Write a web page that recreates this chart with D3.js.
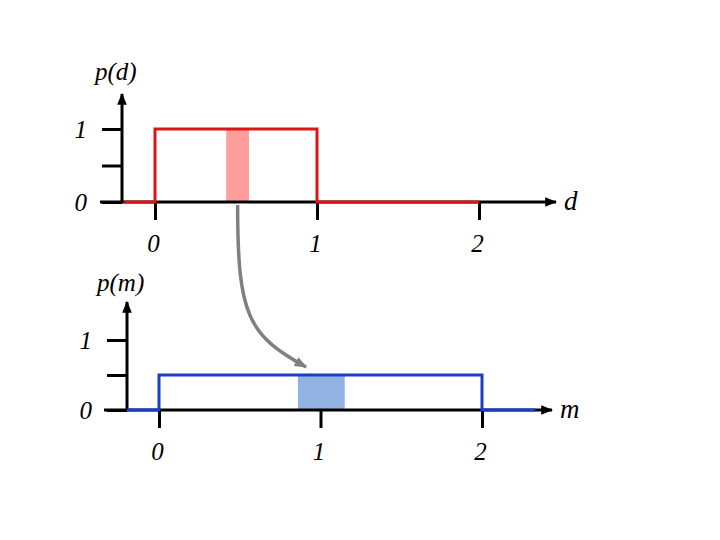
<!DOCTYPE html>
<html>
<head>
<meta charset="utf-8">
<script src="https://cdn.jsdelivr.net/npm/d3@7"></script>
<style>
  body { margin: 0; background: #fff; }
  text { font-family: "Liberation Serif", "DejaVu Serif", serif; font-style: italic; }
</style>
</head>
<body>
<div class="chart"></div>
<script>
// data
const xTicks = [0, 1, 2];
const yTicks = [0, 0.5, 1];
const yTickLabels = ["0", "", "1"];
// p(d): uniform on [0,1]
const pdX = [-0.19, 0, 0, 1, 1, 2];
const pdY = [0, 0, 1, 1, 0, 0];
// p(m): uniform on [0,2], m = 2d
const pmX = [-0.2, 0, 0, 2, 2, 2.33];
const pmY = [0, 0, 0.5, 0.5, 0, 0];
// shaded slices
const dSlice = [0.44, 0.58];
const mSlice = [0.86, 1.15];

const svg = d3
  .select(".chart")
  .append("svg")
  .attr("width", 720)
  .attr("height", 540);

//arrow heads
svg.append("defs")
  .selectAll("marker")
  .data([["black", "#000", 4], ["gray", "#808080", 3.6]])
  .enter()
  .append("marker")
  .attr("id", (d) => "arrow-" + d[0])
  .attr("viewBox", "0 0 10 10")
  .attr("refX", 9)
  .attr("refY", 5)
  .attr("markerWidth", (d) => d[2])
  .attr("markerHeight", (d) => d[2])
  .attr("orient", "auto")
  .append("path")
  .attr("d", "M0,1 L10,5 L0,9 Z")
  .attr("fill", (d) => d[1]);

function panel(opt) {
  const x = d3.scaleLinear().domain([0, 2]).range(opt.xRange);
  const y = d3.scaleLinear().domain([0, 1]).range(opt.yRange);
  const g = svg.append("g");

  //shaded slice
  g.append("rect")
    .attr("x", x(opt.slice[0]))
    .attr("y", y(opt.sliceH))
    .attr("width", x(opt.slice[1]) - x(opt.slice[0]))
    .attr("height", y(0) - y(opt.sliceH))
    .attr("fill", opt.shade);

  //x axis line with arrow
  g.append("line")
    .attr("x1", opt.axisStart)
    .attr("x2", opt.axisEnd)
    .attr("y1", y(0))
    .attr("y2", y(0))
    .attr("stroke", "#000")
    .attr("stroke-width", 3)
    .attr("marker-end", "url(#arrow-black)");

  //y axis line with arrow
  g.append("line")
    .attr("x1", opt.yAxisX)
    .attr("x2", opt.yAxisX)
    .attr("y1", y(0))
    .attr("y2", opt.yAxisTop)
    .attr("stroke", "#000")
    .attr("stroke-width", 3)
    .attr("marker-end", "url(#arrow-black)");

  //x ticks
  const xAxis = d3.axisBottom(x).tickValues(xTicks).tickSize(18).tickPadding(14).tickFormat(d3.format("d"));
  const gx = g.append("g")
    .attr("transform", `translate(0, ${y(0)})`)
    .call(xAxis);
  gx.select(".domain").remove();
  gx.selectAll(".tick line").attr("stroke-width", 3);
  gx.selectAll(".tick text")
    .attr("font-size", 25)
    .attr("font-family", "Liberation Serif, serif")
    .attr("dx", -2);

  //y ticks
  const yAxis = d3.axisLeft(y).tickValues(yTicks).tickSize(20).tickPadding(15)
    .tickFormat((d, i) => yTickLabels[i]);
  const gy = g.append("g")
    .attr("transform", `translate(${opt.yAxisX}, 0)`)
    .call(yAxis);
  gy.select(".domain").remove();
  gy.selectAll(".tick line").attr("stroke-width", 3);
  gy.selectAll(".tick text")
    .attr("font-size", 25)
    .attr("font-family", "Liberation Serif, serif");

  //density line
  const line = d3.line()
    .x((d) => x(d[0]))
    .y((d) => y(d[1]));
  g.append("path")
    .datum(d3.zip(opt.lx, opt.ly))
    .attr("d", line)
    .attr("fill", "none")
    .attr("stroke", opt.color)
    .attr("stroke-width", 3);

  //labels
  g.append("text")
    .attr("x", opt.yLabel[0])
    .attr("y", opt.yLabel[1])
    .attr("font-size", 25)
    .text(opt.yText);
  g.append("text")
    .attr("x", opt.axisEnd + 8)
    .attr("y", y(0) + 8)
    .attr("font-size", 27)
    .text(opt.xText);

  return { x, y };
}

const topPanel = panel({
  xRange: [155, 479],
  yRange: [202, 129],
  axisStart: 100,
  axisEnd: 556,
  yAxisX: 122,
  yAxisTop: 94,
  lx: pdX,
  ly: pdY,
  color: "#d81616",
  shade: "#ff9c9c",
  slice: dSlice,
  sliceH: 1,
  yLabel: [95, 80],
  yText: "p(d)",
  xText: "d",
});

const bottomPanel = panel({
  xRange: [159, 482],
  yRange: [410, 340],
  axisStart: 104,
  axisEnd: 552,
  yAxisX: 127,
  yAxisTop: 302,
  lx: pmX,
  ly: pmY,
  color: "#1a3ec8",
  shade: "#91b2e2",
  slice: mSlice,
  sliceH: 0.5,
  yLabel: [97, 291],
  yText: "p(m)",
  xText: "m",
});

//curved arrow from d slice to m slice
const x0 = topPanel.x((dSlice[0] + dSlice[1]) / 2);
const y0 = topPanel.y(0) + 3;
const x1 = 306;
const y1 = bottomPanel.y(0.5) - 8;
const p = d3.path();
p.moveTo(x0, y0);
p.bezierCurveTo(x0, y0 + 110, x0 + 10, y0 + 130, x1, y1);
svg.append("path")
  .attr("d", p.toString())
  .attr("fill", "none")
  .attr("stroke", "#808080")
  .attr("stroke-width", 3.5)
  .attr("marker-end", "url(#arrow-gray)");
</script>
</body>
</html>
